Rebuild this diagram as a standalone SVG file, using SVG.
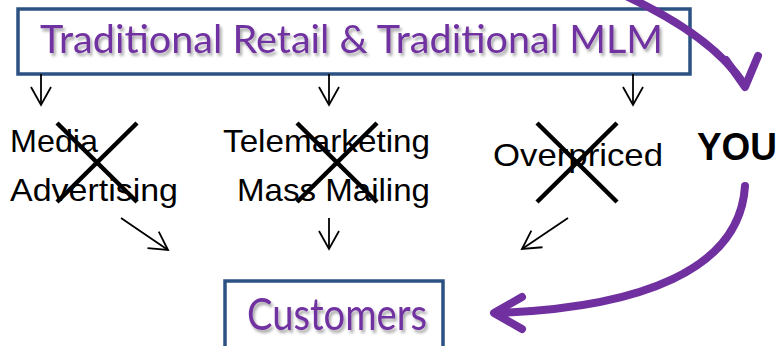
<svg xmlns="http://www.w3.org/2000/svg" width="780" height="346" viewBox="0 0 780 346">
<style>
.box{fill:#fff;stroke:#2B5282;stroke-width:3.5}
.title{font-family:Lato,"DejaVu Sans",sans-serif;fill:#7030A0}
.lbl{font-family:"Liberation Sans",Arial,sans-serif;fill:#000;font-size:32px}
.x{stroke:#000;stroke-width:4.5;stroke-linecap:butt}
.thin{stroke:#000;stroke-width:1.8;fill:none}
.purple{stroke:#7030A0;stroke-width:8;fill:none;stroke-linecap:round;stroke-linejoin:round}
</style>
<defs>
<filter id="sh" x="-5%" y="-20%" width="110%" height="150%">
<feGaussianBlur in="SourceAlpha" stdDeviation="1.5"/>
<feOffset dx="2" dy="3" result="b"/>
<feComponentTransfer><feFuncA type="linear" slope="0.35"/></feComponentTransfer>
<feMerge><feMergeNode/><feMergeNode in="SourceGraphic"/></feMerge>
</filter>
<marker id="ah" markerUnits="userSpaceOnUse" markerWidth="24" markerHeight="24" viewBox="0 0 24 24" refX="20" refY="12" orient="auto">
<path d="M2,2 L20,12 L2,22" fill="none" stroke="#000" stroke-width="1.8"/>
</marker>
</defs>
<g id="node-top">
<rect class="box" x="18" y="9" width="672" height="65"/>
<text class="title" x="40" y="53" font-size="38" textLength="623" lengthAdjust="spacingAndGlyphs" filter="url(#sh)">Traditional Retail &amp; Traditional MLM</text>
</g>
<g id="node-media">
<text class="lbl" x="10" y="152" textLength="88" lengthAdjust="spacingAndGlyphs">Media</text>
<text class="lbl" x="10" y="201" textLength="168" lengthAdjust="spacingAndGlyphs">Advertising</text>
<line class="x" x1="57" y1="123" x2="137" y2="202"/>
<line class="x" x1="137" y1="123" x2="57" y2="202"/>
</g>
<g id="node-tele">
<text class="lbl" x="223" y="152" textLength="207" lengthAdjust="spacingAndGlyphs">Telemarketing</text>
<text class="lbl" x="237" y="201" textLength="193" lengthAdjust="spacingAndGlyphs">Mass Mailing</text>
<line class="x" x1="297" y1="123" x2="377" y2="202"/>
<line class="x" x1="377" y1="123" x2="297" y2="202"/>
</g>
<g id="node-over">
<text class="lbl" x="493" y="166" font-size="33" textLength="170" lengthAdjust="spacingAndGlyphs">Overpriced</text>
<line class="x" x1="537" y1="123" x2="617" y2="202"/>
<line class="x" x1="617" y1="123" x2="537" y2="202"/>
</g>
<g id="node-you">
<text x="697" y="160" font-family="'Liberation Sans',Arial,sans-serif" font-weight="bold" font-size="38" textLength="80" lengthAdjust="spacingAndGlyphs">YOU</text>
</g>
<g id="node-customers">
<rect class="box" x="225" y="281" width="218" height="80"/>
<text class="title" x="247" y="330" font-size="44" textLength="180" lengthAdjust="spacingAndGlyphs" filter="url(#sh)">Customers</text>
</g>
<g id="connectors">
<line class="thin" x1="41" y1="74" x2="41" y2="105" marker-end="url(#ah)"/>
<line class="thin" x1="329" y1="74" x2="329" y2="105" marker-end="url(#ah)"/>
<line class="thin" x1="633" y1="74" x2="633" y2="105" marker-end="url(#ah)"/>
<line class="thin" x1="121" y1="218" x2="168" y2="250" marker-end="url(#ah)"/>
<line class="thin" x1="329" y1="218" x2="329" y2="249" marker-end="url(#ah)"/>
<line class="thin" x1="568" y1="218" x2="522" y2="249" marker-end="url(#ah)"/>
<path class="purple" d="M626,-4 Q712,36 744,84"/>
<polyline class="purple" points="726,60 745,87 758,56"/>
<path class="purple" d="M745,186 C740,270 640,308 496,313"/>
<polyline class="purple" points="522,297 494,313 522,329"/>
</g>
</svg>
